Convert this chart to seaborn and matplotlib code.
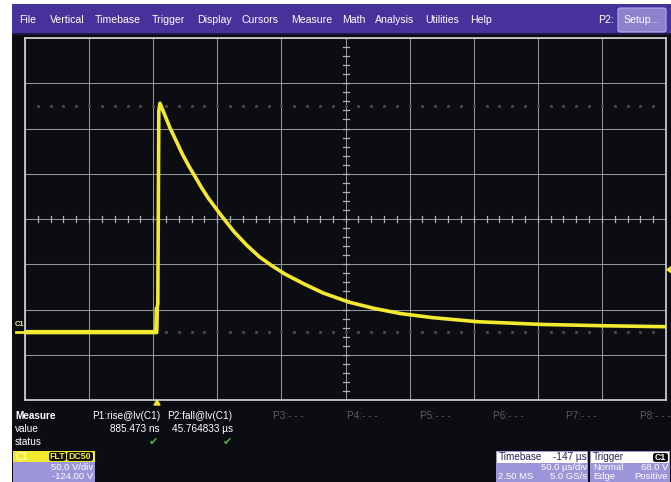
import numpy as np
import pandas as pd
import matplotlib
matplotlib.use("Agg")
import matplotlib.pyplot as plt
from matplotlib.patches import Rectangle, FancyBboxPatch, Polygon
import seaborn as sns

# ---------------- data ----------------
# C1 trace: time relative to trigger (µs) and voltage (V)
time_us = [-103, -80, -60, -40, -20, -0.6, -0.2, 0.6, 1.4, 2.3, 6, 10, 15, 20,
           25, 30, 35, 40, 50, 60, 70, 80, 90, 100, 115, 130, 150, 170,
           190, 215, 250, 300, 350, 397]
volts = [-1, -1, -1, -1, -1, -1, 24, 30, 244, 252, 239, 225, 210, 195,
         182, 170, 158, 147, 128, 110, 95, 82, 72, 63, 52, 42, 32, 25,
         19.5, 15, 10.5, 7.5, 6, 5]

# scope settings shown on screen
volts_per_div = 50.0
offset_v = -124.0
time_per_div = 50.0
delay_us = -147.0
trigger_level_v = 68.0

menu_items = ["File", "Vertical", "Timebase", "Trigger", "Display", "Cursors",
              "Measure", "Math", "Analysis", "Utilities", "Help"]
menu_x = [19, 50, 95, 152, 197, 242, 291, 342, 375, 425, 470]
param_labels = ["P3:- - -", "P4:- - -", "P5:- - -", "P6:- - -", "P7:- - -", "P8:- - -"]
param_x = [273, 347, 420, 493, 566, 640]

# ---------------- figure ----------------
W, H = 671, 482
plt.rcParams['font.family'] = ['Liberation Sans', 'DejaVu Sans']
fig = plt.figure(figsize=(W / 100, H / 100), dpi=100)
fig.patch.set_facecolor("white")

def fx(x):
    return x / W

def fy(y):
    return 1 - y / H

def rect(x0, y0, x1, y1, **kw):
    r = Rectangle((fx(x0), fy(y1)), (x1 - x0) / W, (y1 - y0) / H,
                  transform=fig.transFigure, **kw)
    fig.add_artist(r)
    return r

def txt(x, y, s, **kw):
    kw.setdefault("va", "center")
    kw.setdefault("ha", "left")
    return fig.text(fx(x), fy(y), s, **kw)

BG = "#0c0d12"
PURPLE = "#47329c"
LAV = "#9d95da"
YEL = "#f3ea2f"

rect(12, 33, W, H, facecolor=BG, edgecolor="none", zorder=-10)
rect(12, 4, W, 34, facecolor=PURPLE, edgecolor="none", zorder=-9)
rect(12, 33, W, 35, facecolor="#1d1840", edgecolor="none", zorder=-8)

# menu
for s, x in zip(menu_items, menu_x):
    txt(x, 20, s, color="white", fontsize=7.6)
txt(598, 20, "P2:", color="white", fontsize=7.6)
fig.add_artist(FancyBboxPatch((fx(618), fy(32)), 48 / W, 24 / H,
                              boxstyle="round,pad=0,rounding_size=0.004",
                              transform=fig.transFigure, facecolor="#8c82cc",
                              edgecolor="#b3abe6", lw=0.8, zorder=1))
txt(642, 20, "Setup...", color="white", fontsize=7.6, ha="center", zorder=2)

# ---------------- graticule axes ----------------
gx0, gx1, gy0, gy1 = 25, 666, 38, 400
ax = fig.add_axes([fx(gx0), fy(gy1), (gx1 - gx0) / W, (gy1 - gy0) / H])
ax.set_facecolor(BG)
center_t = -delay_us
center_v = -offset_v
xlo, xhi = center_t - 5 * time_per_div, center_t + 5 * time_per_div
ylo, yhi = center_v - 4 * volts_per_div, center_v + 4 * volts_per_div
ax.set_xlim(xlo, xhi)
ax.set_ylim(ylo, yhi)
ax.set_xticks(np.arange(xlo, xhi + 1, time_per_div))
ax.set_yticks(np.arange(ylo, yhi + 1, volts_per_div))
ax.tick_params(length=0, labelbottom=False, labelleft=False)
ax.grid(True, color="#959595", lw=0.75)
ax.set_axisbelow(True)
for sp in ax.spines.values():
    sp.set_color("#c8c8c8")
    sp.set_linewidth(1.3)

# center cross minor ticks
px_t = time_per_div / 64.1
px_v = volts_per_div / 45.25
for t in np.arange(xlo, xhi + 0.1, time_per_div / 5):
    ax.plot([t, t], [center_v - 3 * px_v, center_v + 3 * px_v], color="#b0b0b0", lw=0.9, zorder=1)
for v in np.arange(ylo, yhi + 0.1, volts_per_div / 5):
    ax.plot([center_t - 3 * px_t, center_t + 3 * px_t], [v, v], color="#b0b0b0", lw=0.9, zorder=1)
# faint dotted rows
for v in [center_v + 2.5 * volts_per_div, center_v - 2.5 * volts_per_div]:
    dots = np.arange(xlo + time_per_div / 5, xhi, time_per_div / 5)
    ax.plot(dots, np.full_like(dots, v), ls="none", marker="s", ms=1.2,
            color="#44444c", zorder=1)

# trace
df = pd.DataFrame({"t": time_us, "v": volts})
pre = df[df["t"] < 0]
post = df[df["t"] >= -0.6]
sns.lineplot(data=pre, x="t", y="v", ax=ax, color=YEL, lw=3.2, estimator=None, sort=False, zorder=5)
sns.lineplot(data=post, x="t", y="v", ax=ax, color=YEL, lw=2.6, estimator=None, sort=False, zorder=5)
ax.set_xlabel("")
ax.set_ylabel("")

# channel marker left, trigger markers
fig.add_artist(plt.Line2D([fx(16), fx(25)], [fy(332), fy(332)], color=YEL, lw=2.0, zorder=3))
txt(15, 324, "C1", color="#e8e6a0", fontsize=5.5, fontweight="bold")
fig.add_artist(Polygon([[fx(154), fy(405)], [fx(160), fy(405)], [fx(157), fy(400)]],
                       closed=True, transform=fig.transFigure, color=YEL, zorder=5))
ytrig = gy1 - (trigger_level_v - ylo) / (yhi - ylo) * (gy1 - gy0)
fig.add_artist(Polygon([[fx(671), fy(ytrig - 3)], [fx(671), fy(ytrig + 3)], [fx(667), fy(ytrig)]],
                       closed=True, transform=fig.transFigure, color=YEL, zorder=5))

# ---------------- measurement area ----------------
fs = 7.2
txt(15, 416, "Measure", color="white", fontsize=fs, fontweight="bold")
txt(15, 429, "value", color="white", fontsize=fs)
txt(15, 442, "status", color="white", fontsize=fs)
txt(92, 416, "P1:rise@lv(C1)", color="white", fontsize=fs)
txt(167, 416, "P2:fall@lv(C1)", color="white", fontsize=fs)
txt(160, 429, "885.473 ns", color="white", fontsize=fs, ha="right")
txt(233, 429, "45.764833 µs", color="white", fontsize=fs, ha="right")
txt(153, 442, "✔", color="#4fbf32", fontsize=8, ha="center")
txt(227, 442, "✔", color="#4fbf32", fontsize=8, ha="center")
for s, x in zip(param_labels, param_x):
    txt(x, 416, s, color="#5c5c62", fontsize=fs)

r1, r2, fs2 = 467.5, 476.5, 6.8
# C1 panel
rect(13, 451, 95, H, facecolor=LAV, edgecolor="none", zorder=1)
rect(13, 451, 95, 462, facecolor=YEL, edgecolor="none", zorder=2)
txt(16, 456.5, "C1", color="white", fontsize=fs, zorder=3)
for s, x0, x1 in [("FLT", 49, 66), ("DC50", 67, 93)]:
    fig.add_artist(FancyBboxPatch((fx(x0), fy(461)), (x1 - x0) / W, 9 / H,
                                  boxstyle="round,pad=0,rounding_size=0.004",
                                  transform=fig.transFigure, facecolor="#111",
                                  edgecolor="none", zorder=3))
    txt((x0 + x1) / 2, 456.5, s, color=YEL, fontsize=6.3, ha="center", fontweight="bold", zorder=4)
txt(93, r1, "50.0 V/div", color="white", fontsize=fs2, ha="right", zorder=3)
txt(93, r2, "-124.00 V", color="white", fontsize=fs2, ha="right", zorder=3)

# Timebase panel
rect(496, 451, 588, H, facecolor=LAV, edgecolor="none", zorder=1)
rect(497, 452, 587, 463, facecolor="white", edgecolor="none", zorder=2)
txt(499, 457.5, "Timebase", color="#2a2560", fontsize=fs, zorder=3)
txt(587, 457.5, "-147 µs", color="#2a2560", fontsize=fs, ha="right", zorder=3)
txt(587, r1, "50.0 µs/div", color="white", fontsize=fs2, ha="right", zorder=3)
txt(498, r2, "2.50 MS", color="white", fontsize=fs2, zorder=3)
txt(587, r2, "5.0 GS/s", color="white", fontsize=fs2, ha="right", zorder=3)

# Trigger panel
rect(590, 451, 670, H, facecolor=LAV, edgecolor="none", zorder=1)
rect(591, 452, 669, 463, facecolor="white", edgecolor="none", zorder=2)
txt(593, 457.5, "Trigger", color="#2a2560", fontsize=fs, zorder=3)
fig.add_artist(FancyBboxPatch((fx(653), fy(462)), 15 / W, 9 / H,
                              boxstyle="round,pad=0,rounding_size=0.004",
                              transform=fig.transFigure, facecolor="#111",
                              edgecolor="none", zorder=3))
txt(660.5, 457.5, "C1", color="white", fontsize=6.3, ha="center", fontweight="bold", zorder=4)
txt(593, r1, "Normal", color="white", fontsize=fs2, zorder=3)
txt(668, r1, "68.0 V", color="white", fontsize=fs2, ha="right", zorder=3)
txt(593, r2, "Edge", color="white", fontsize=fs2, zorder=3)
txt(668, r2, "Positive", color="white", fontsize=fs2, ha="right", zorder=3)

fig.savefig("out.png", dpi=100, facecolor=fig.get_facecolor())
